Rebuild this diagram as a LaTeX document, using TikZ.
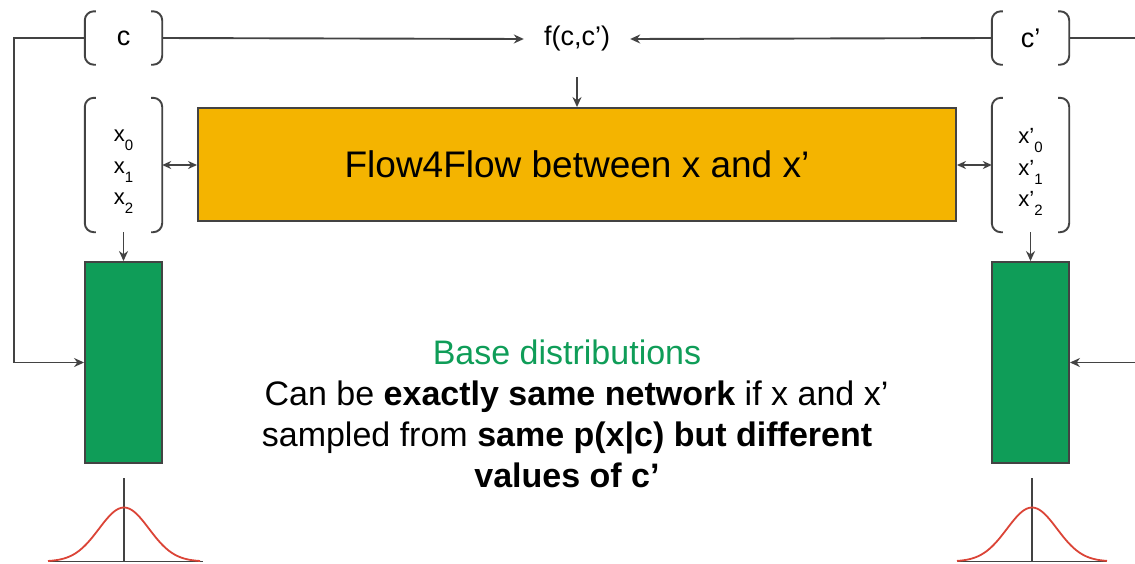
\documentclass[tikz,border=0pt]{standalone}
\usepackage{fontspec}
\setmainfont{Liberation Sans}
\usetikzlibrary{arrows.meta}
\definecolor{lineg}{HTML}{434343}
\definecolor{gyellow}{HTML}{F4B400}
\definecolor{ggreen}{HTML}{0F9D58}
\definecolor{gred}{HTML}{DB4437}
\newcommand\drawbrk[1]{%
  \draw[brk] ([xshift=11pt]#1.north west) -- (#1.north west) -- (#1.south west) -- ([xshift=11pt]#1.south west);
  \draw[brk] ([xshift=-11pt]#1.north east) -- (#1.north east) -- (#1.south east) -- ([xshift=-11pt]#1.south east);}
\newcommand\sub[1]{\raisebox{-9pt}{\fontsize{15}{15}\selectfont #1}}
\begin{document}
\begin{tikzpicture}[x=1pt,y=-1pt,
  conn/.style={draw=lineg, line width=1.9pt},
  arr/.style={conn,-{Stealth[length=10pt,width=9pt]}},
  darr/.style={conn,{Stealth[length=9pt,width=8pt]}-{Stealth[length=9pt,width=8pt]}},
  brkbox/.style={minimum width=77pt, inner sep=0pt},
  brk/.style={draw=lineg, line width=1.9pt, rounded corners=9pt},
  lbl/.style={font=\fontsize{27}{32}\selectfont},
  xlist/.style={align=center, font=\fontsize{22}{31.5}\selectfont},
  greenbox/.style={draw=lineg, fill=ggreen, line width=1.9pt, minimum width=77pt, minimum height=201pt, inner sep=0pt},
  gauss/.style={gred, line width=1.8pt},
]
\useasboundingbox (0,0) rectangle (1135,563);

% condition brackets
\node[brkbox, minimum height=53pt, lbl] (c) at (123.5,38) {c};
\node[brkbox, minimum height=53pt, lbl] (cp) at (1030.5,38) {c’};
\drawbrk{c}
\drawbrk{cp}

\node[lbl, inner xsep=20pt] (f) at (577,39) {f(c,c’)};

% x brackets
\node[brkbox, minimum height=134pt] (x) at (123.5,165) {};
\node[brkbox, minimum height=134pt] (xp) at (1030.5,165) {};
\node[xlist] (xt) at (123.5,172) {x\sub{0}\\x\sub{1}\\x\sub{2}};
\node[xlist] (xpt) at (1030.5,172) {x’\sub{0}\\x’\sub{1}\\x’\sub{2}};
\drawbrk{x}
\drawbrk{xp}

% flow box
\node[draw=lineg, fill=gyellow, line width=1.9pt, minimum width=758pt, minimum height=113pt, inner sep=0pt,
      font=\fontsize{37}{44}\selectfont] (flow) at (577,164.5) {Flow4Flow between x and x’};

% base distributions
\node[greenbox] (gL) at (123.5,362.5) {};
\node[greenbox] (gR) at (1030.5,362.5) {};

% description
\node[align=center, font=\fontsize{34}{41}\selectfont] (txt) at (567,414) {%
  \textcolor{ggreen}{Base distributions}\\
  \hspace*{19pt}Can be \textbf{exactly same network} if x and x’\\
  sampled from \textbf{same p(x|c) but different}\\
  \textbf{values of c’}};

% connectors
\draw[arr] (c.east) -- (f.west);
\draw[arr] (cp.west) -- (f.east);
\draw[arr, shorten <=22pt] (f.south) -- (flow.north);
\draw[darr] (x.east) -- (x.east -| flow.west);
\draw[darr] (xp.west) -- (xp.west -| flow.east);
\draw[arr] (x.south) -- (gL.north);
\draw[arr] (xp.south) -- (gR.north);

\coordinate (lc) at (14,38);
\draw[arr] (c.west) -- (lc) |- (gL.west);
\coordinate (rc) at (1135,38);
\draw[conn] (cp.east) -- (rc);
\coordinate (rg) at (1135,362.5);
\draw[arr] (rg) -- (gR.east);

% gaussians
\draw[conn] (124,478) -- (124,561.5);
\draw[conn] (48,561.5) -- (203,561.5);
\draw[gauss, domain=-76:76, samples=80, smooth] plot ({124+\x},{561.5-54*exp(-(\x*\x)/1250)});
\draw[conn] (1032,478) -- (1032,561.5);
\draw[conn] (957,561.5) -- (1107,561.5);
\draw[gauss, domain=-75:75, samples=80, smooth] plot ({1032+\x},{561.5-54*exp(-(\x*\x)/1250)});
\end{tikzpicture}
\end{document}
